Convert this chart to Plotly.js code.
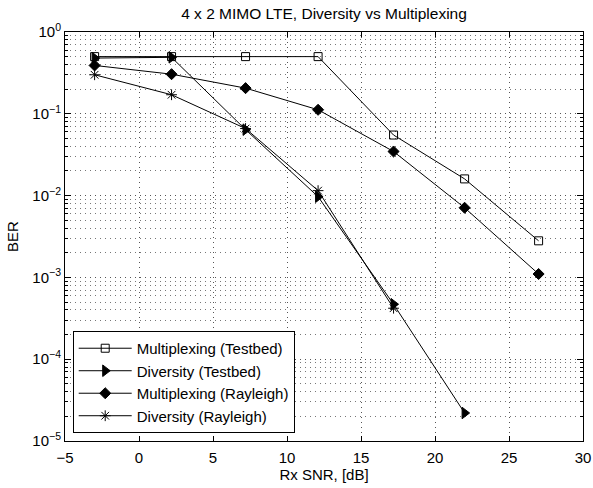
<!DOCTYPE html>
<html>
<head>
<meta charset="utf-8">
<script src="https://cdn.plot.ly/plotly-3.0.1.min.js"></script>
<style>html,body{margin:0;padding:0;background:#fff;}#chart{width:593px;height:488px;}</style>
</head>
<body>
<div id="chart"></div>
<script>
// Data
var snrMT = [-3, 2.2, 7.2, 12.1, 17.2, 22, 27];
var berMT = [0.5, 0.5, 0.5, 0.5, 0.055, 0.016, 0.0028];

var snrDT = [-3, 2.2, 7.2, 12.1, 17.2, 22];
var berDT = [0.48, 0.49, 0.064, 0.0097, 0.00047, 0.000022];

var snrMR = [-3, 2.2, 7.2, 12.1, 17.2, 22, 27];
var berMR = [0.39, 0.305, 0.206, 0.112, 0.0346, 0.0071, 0.0011];

var snrDR = [-3, 2.2, 7.2, 12.1, 17.2];
var berDR = [0.30, 0.171, 0.066, 0.0115, 0.00042];

var seriesNames = ['Multiplexing (Testbed)', 'Diversity (Testbed)', 'Multiplexing (Rayleigh)', 'Diversity (Rayleigh)'];

var yTickVals = [1e-5, 1e-4, 1e-3, 1e-2, 1e-1, 1];
var yTickText = ['10<sup>\u22125</sup>', '10<sup>\u22124</sup>', '10<sup>\u22123</sup>', '10<sup>\u22122</sup>', '10<sup>\u22121</sup>', '10<sup>0</sup>'];
var xTickVals = [-5, 0, 5, 10, 15, 20, 25, 30];

var minorVals = [];
for (var e = -5; e < 0; e++) {
  for (var m = 2; m <= 9; m++) minorVals.push(m * Math.pow(10, e));
}

var FONT = 'Liberation Sans, Arial, Helvetica, sans-serif';
var lineStyle = {color: '#000', width: 1};

var traces = [
  {x: snrMT, y: berMT, name: seriesNames[0], mode: 'lines+markers', line: lineStyle,
   marker: {symbol: 'square-open', size: 8, color: '#000', line: {width: 1, color: '#000'}}},
  {x: snrDT, y: berDT, name: seriesNames[1], mode: 'lines+markers', line: lineStyle,
   marker: {symbol: 'triangle-right', size: 10, color: '#000', line: {width: 1, color: '#000'}}},
  {x: snrMR, y: berMR, name: seriesNames[2], mode: 'lines+markers', line: lineStyle,
   marker: {symbol: 'diamond', size: 8.5, color: '#000', line: {width: 1, color: '#000'}}},
  {x: snrDR, y: berDR, name: seriesNames[3], mode: 'lines+markers', line: lineStyle,
   marker: {symbol: 'asterisk-open', size: 9, color: '#000', line: {width: 1, color: '#000'}}}
];

var layout = {
  width: 593, height: 488,
  margin: {l: 65, r: 10, t: 32, b: 47},
  paper_bgcolor: '#fff', plot_bgcolor: '#fff',
  font: {family: FONT, size: 15, color: '#000'},
  showlegend: true,
  title: {text: '4 x 2 MIMO LTE, Diversity vs Multiplexing', font: {family: FONT, size: 15.5, color: '#000'},
          xref: 'paper', x: 0.5, xanchor: 'center', yref: 'container', y: 1 - 14 / 488, yanchor: 'middle'},
  xaxis: {
    range: [-5, 30], tickmode: 'array', tickvals: xTickVals,
    ticks: 'inside', ticklen: 5, tickcolor: '#000', showline: true, linecolor: '#000', linewidth: 1,
    mirror: 'ticks', zeroline: false, ticklabelstandoff: 3,
    showgrid: true, gridcolor: '#555', griddash: '1px,4px', gridwidth: 1,
    tickfont: {family: FONT, size: 15, color: '#000'},
    title: {text: 'Rx SNR, [dB]', font: {family: FONT, size: 15, color: '#000'}, standoff: 3}
  },
  yaxis: {
    type: 'log', range: [-5, 0], tickmode: 'array', tickvals: yTickVals, ticktext: yTickText,
    ticks: 'inside', ticklen: 6, tickcolor: '#000', showline: true, linecolor: '#000', linewidth: 1,
    mirror: 'ticks', zeroline: false,
    showgrid: true, gridcolor: '#555', griddash: '1px,4px', gridwidth: 1,
    minor: {tickmode: 'array', tickvals: minorVals, ticks: 'inside', ticklen: 3, tickcolor: '#000',
            showgrid: true, gridcolor: '#777', griddash: '1px,4px', gridwidth: 1},
    tickfont: {family: FONT, size: 15, color: '#000'},
    title: {text: 'BER', font: {family: FONT, size: 15, color: '#000'}, standoff: 10}
  },
  legend: {
    x: 0.0149, y: 0.0196, xanchor: 'left', yanchor: 'bottom',
    bgcolor: '#fff', bordercolor: '#000', borderwidth: 1,
    font: {family: FONT, size: 15, color: '#000'},
    itemwidth: 53, tracegroupgap: 0
  }
};

Plotly.newPlot('chart', traces, layout, {displayModeBar: false, staticPlot: true});
</script>
</body>
</html>
